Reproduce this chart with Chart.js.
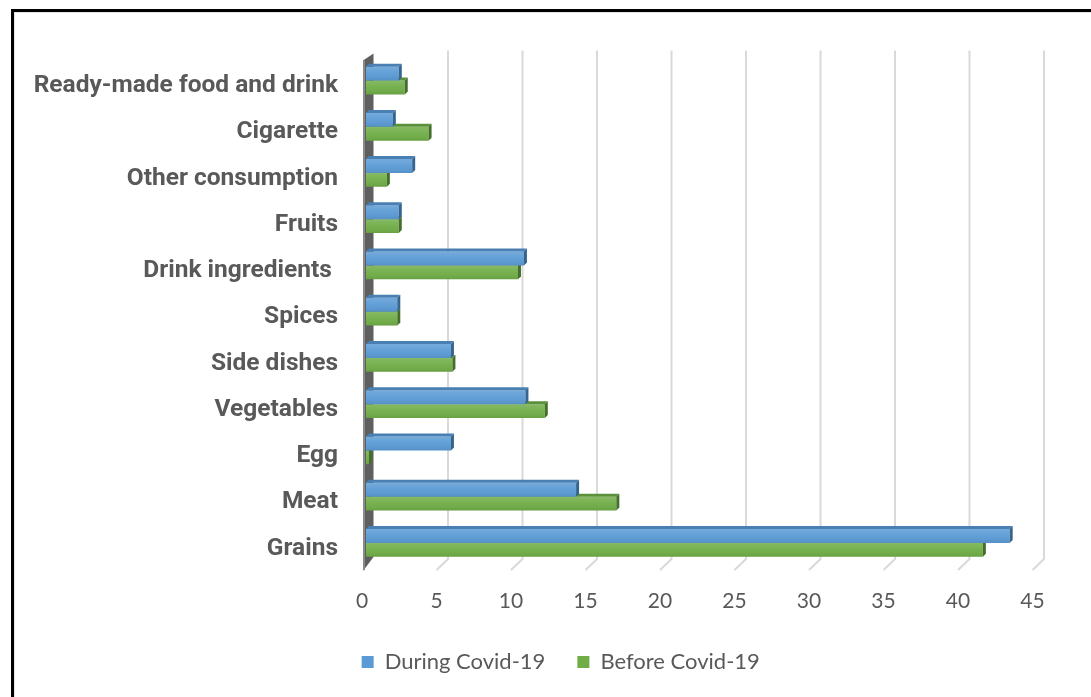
<!DOCTYPE html>
<html>
<head>
<meta charset="utf-8">
<script src="https://cdn.jsdelivr.net/npm/chart.js@4/dist/chart.umd.min.js"></script>
<style>
  html, body { margin: 0; padding: 0; background: #fff; overflow: hidden; }
  #wrap { position: absolute; left: 0; top: 0; width: 1091px; height: 697px; }
  #frame {
    position: absolute; left: 11px; top: 9px; width: 1200px; height: 800px;
    border-left: 3px solid #000; border-top: 3px solid #000;
    box-shadow: inset 1px 1px 0 #e2e2e2;
  }
  canvas { position: absolute; left: 0; top: 0; }
</style>
</head>
<body>
<div id="wrap">
  <div id="frame"></div>
  <canvas id="c" width="1091" height="697"></canvas>
</div>
<script>
// Household spending shares by category, during vs. before Covid-19
const categories = [
  'Ready-made food and drink',
  'Cigarette',
  'Other consumption',
  'Fruits',
  'Drink ingredients ',
  'Spices',
  'Side dishes',
  'Vegetables',
  'Egg',
  'Meat',
  'Grains'
];
const duringCovid = [2.2, 1.8, 3.1, 2.2, 10.6, 2.1, 5.7, 10.7, 5.7, 14.1, 43.2];
const beforeCovid = [2.6, 4.2, 1.4, 2.2, 10.2, 2.1, 5.8, 12.0, 0.2, 16.8, 41.4];
const xTickValues = [0, 5, 10, 15, 20, 25, 30, 35, 40, 45];

const seriesNames = ['During Covid-19', 'Before Covid-19'];
const seriesColors = ['#5b9bd5', '#70ad47'];
const topFaceColors = ['#4a7fb3', '#5c913b'];
const sideFaceColors = ['#35648f', '#446f2a'];

const TEXT_GREY = '#595959';
const DEPTH = 3;        // bar extrusion
const BACK_SHIFT = 7.5; // back wall offset of gridlines
const FRONT_SHIFT = -4; // front edge of floor lines
const PAD_LEFT = 20;
const PLOT_LEFT = 366;

// 3D-style backdrop: back-wall gridlines, floor ticks and the side wall
const depthPlugin = {
  id: 'depthPlugin',
  beforeDatasetsDraw(chart) {
    const { ctx, chartArea, scales: { x } } = chart;
    const wallTop = chartArea.top - 7;
    const floorBack = chartArea.bottom - 7;
    const floorFront = chartArea.bottom + 4;
    ctx.save();
    ctx.strokeStyle = '#d9d9d9';
    ctx.lineWidth = 2;
    xTickValues.forEach(v => {
      if (v === 0) return;
      const px = x.getPixelForValue(v);
      ctx.beginPath();
      ctx.moveTo(px + BACK_SHIFT, wallTop);
      ctx.lineTo(px + BACK_SHIFT, floorBack);
      ctx.lineTo(px + FRONT_SHIFT, floorFront);
      ctx.stroke();
    });
    // left side wall
    const x0 = x.getPixelForValue(0);
    const wl = x0 + FRONT_SHIFT + 1, wr = x0 + BACK_SHIFT;
    ctx.fillStyle = '#5f5f5f';
    ctx.beginPath();
    ctx.moveTo(wr, wallTop + 3);
    ctx.lineTo(wr, floorBack - 2);
    ctx.lineTo(wl, floorFront + 1);
    ctx.lineTo(wl, wallTop + 10);
    ctx.closePath();
    ctx.fill();
    ctx.fillStyle = '#8a8a8a';
    ctx.fillRect(wl, wallTop + 10, 2, floorFront - wallTop - 10);
    ctx.restore();
  },
  afterDatasetDraw(chart, args) {
    const { ctx } = chart;
    const i = args.index;
    ctx.save();
    args.meta.data.forEach(el => {
      const { x, y, base, height } = el.getProps(['x', 'y', 'base', 'height'], true);
      const top = y - height / 2, bottom = y + height / 2;
      // soft vertical shading on the front face
      const g = ctx.createLinearGradient(0, top, 0, bottom);
      g.addColorStop(0, 'rgba(255,255,255,0.16)');
      g.addColorStop(0.5, 'rgba(255,255,255,0.04)');
      g.addColorStop(1, 'rgba(0,0,0,0.07)');
      ctx.fillStyle = g;
      ctx.fillRect(base, top, x - base, bottom - top);
      // top face
      ctx.fillStyle = topFaceColors[i];
      ctx.beginPath();
      ctx.moveTo(base, top);
      ctx.lineTo(base + DEPTH, top - DEPTH);
      ctx.lineTo(x + DEPTH, top - DEPTH);
      ctx.lineTo(x, top);
      ctx.closePath();
      ctx.fill();
      // end cap
      ctx.fillStyle = sideFaceColors[i];
      ctx.beginPath();
      ctx.moveTo(x, top);
      ctx.lineTo(x + DEPTH, top - DEPTH);
      ctx.lineTo(x + DEPTH, bottom - DEPTH);
      ctx.lineTo(x, bottom);
      ctx.closePath();
      ctx.fill();
    });
    ctx.restore();
  }
};

// fixed legend band height, and legend centred under the plot rather than the canvas
const legendPlacement = {
  id: 'legendPlacement',
  beforeInit(chart) {
    const lg = chart.legend;
    const fit = lg.fit;
    lg.fit = function () { fit.call(this); this.height = 78; };
  },
  afterLayout(chart) {
    chart.legend.left += 65;
  }
};

new Chart(document.getElementById('c'), {
  type: 'bar',
  data: {
    labels: categories,
    datasets: [
      { label: seriesNames[0], data: duringCovid, backgroundColor: seriesColors[0] },
      { label: seriesNames[1], data: beforeCovid, backgroundColor: seriesColors[1] }
    ]
  },
  options: {
    indexAxis: 'y',
    responsive: false,
    animation: false,
    categoryPercentage: 0.6,
    barPercentage: 1.0,
    layout: { padding: { left: PAD_LEFT, right: 54.5, top: 57.4, bottom: 0 } },
    scales: {
      x: {
        min: 0, max: 45,
        afterBuildTicks(scale) { scale.ticks = xTickValues.map(v => ({ value: v })); },
        afterFit(scale) { scale.height = 53; },
        grid: { display: false, drawTicks: false },
        border: { display: false },
        ticks: {
          color: TEXT_GREY,
          font: { family: 'Lato', size: 21 },
          padding: 23,
          labelOffset: FRONT_SHIFT,
          maxRotation: 0
        }
      },
      y: {
        afterFit(scale) { scale.width = PLOT_LEFT - PAD_LEFT; },
        grid: { display: false, drawTicks: false },
        border: { display: false },
        ticks: {
          color: TEXT_GREY,
          font: { family: 'Roboto', size: 24.5, weight: 'bold' },
          padding: 28,
          labelOffset: 5.5,
          autoSkip: false
        }
      }
    },
    plugins: {
      legend: {
        position: 'bottom',
        labels: {
          color: TEXT_GREY,
          font: { family: 'Lato', size: 22 },
          boxWidth: 12,
          boxHeight: 12,
          padding: 32
        }
      },
      tooltip: { enabled: false }
    }
  },
  plugins: [depthPlugin, legendPlacement]
});
</script>
</body>
</html>
